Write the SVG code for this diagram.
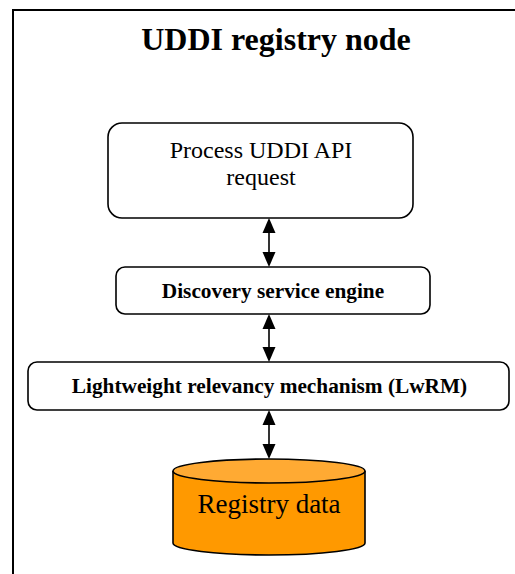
<svg xmlns="http://www.w3.org/2000/svg" width="515" height="574" viewBox="0 0 515 574">
<style>
.box{fill:#fff;stroke:#000;stroke-width:1.6}
.t{font-family:"Liberation Serif","Times New Roman",serif;fill:#000;text-anchor:middle}
.b{font-weight:bold}
.conn line{stroke:#000;stroke-width:1.6}
.conn polygon{fill:#000}
</style>
<rect width="515" height="574" fill="#fff"/>
<g id="frame">
<path d="M13,580 V10 H520" fill="none" stroke="#000" stroke-width="2"/>
<text class="t b" x="276" y="50" font-size="32">UDDI registry node</text>
</g>
<g id="process">
<rect class="box" x="108" y="123" width="305" height="95" rx="14"/>
<text class="t" x="261" y="158" font-size="24">Process UDDI API</text>
<text class="t" x="261" y="185" font-size="24">request</text>
</g>
<g id="discovery">
<rect class="box" x="116" y="267" width="314" height="47" rx="9"/>
<text class="t b" x="273" y="298" font-size="21.3">Discovery service engine</text>
</g>
<g id="lwrm">
<rect class="box" x="28" y="362" width="481" height="48" rx="9"/>
<text class="t b" x="269.5" y="393" font-size="21.3">Lightweight relevancy mechanism (LwRM)</text>
</g>
<g id="registry">
<path d="M173,471 V543 A96,12 0 0 0 365,543 V471" fill="#ff9900" stroke="#000" stroke-width="1.6"/>
<ellipse cx="269" cy="471" rx="96" ry="12" fill="#ffaa33" stroke="#000" stroke-width="1.6"/>
<text class="t" x="269" y="513" font-size="27">Registry data</text>
</g>
<g class="conn" id="connectors">
<line x1="269" y1="230" x2="269" y2="255"/>
<polygon points="269,218 262.5,233 275.5,233"/>
<polygon points="269,267 262.5,252 275.5,252"/>
<line x1="269" y1="326" x2="269" y2="350"/>
<polygon points="269,314 262.5,329 275.5,329"/>
<polygon points="269,362 262.5,347 275.5,347"/>
<line x1="269" y1="422" x2="269" y2="446"/>
<polygon points="269,410 262.5,425 275.5,425"/>
<polygon points="269,459 262.5,444 275.5,444"/>
</g>
</svg>
